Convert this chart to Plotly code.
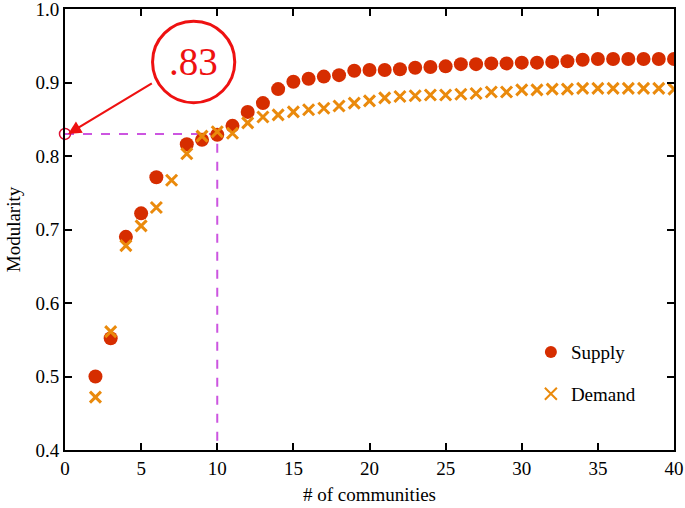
import plotly.graph_objects as go

# number of communities
communities = list(range(2, 41))

# modularity (supply has no point at 7)
supply = [0.500, 0.552, 0.690, 0.722, 0.771, None, 0.816, 0.822, 0.829, 0.841,
          0.860, 0.872, 0.891, 0.901, 0.905, 0.908, 0.910, 0.916, 0.917, 0.917,
          0.918, 0.920, 0.921, 0.922, 0.925, 0.925, 0.926, 0.926, 0.927, 0.927,
          0.928, 0.929, 0.931, 0.932, 0.932, 0.932, 0.932, 0.932, 0.932]
demand = [0.472, 0.561, 0.678, 0.705, 0.730, 0.767, 0.803, 0.827, 0.833, 0.831,
          0.845, 0.853, 0.856, 0.860, 0.863, 0.865, 0.868, 0.872, 0.875, 0.879,
          0.881, 0.882, 0.883, 0.883, 0.884, 0.885, 0.887, 0.887, 0.890, 0.890,
          0.891, 0.891, 0.892, 0.892, 0.892, 0.892, 0.892, 0.892, 0.891]

best_k = 10
best_q = 0.83

FONT = "Liberation Serif"
RED = "#d62d00"
ORANGE = "#ea8a0c"
VIOLET = "#cc55e0"

fig = go.Figure()

# guide lines to the chosen point
fig.add_trace(go.Scatter(x=[0, best_k, best_k], y=[best_q, best_q, 0.4], mode="lines",
                         line=dict(color=VIOLET, width=2, dash="dash"),
                         showlegend=False, hoverinfo="skip"))

fig.add_trace(go.Scatter(x=communities, y=supply, mode="markers", name="Supply",
                         legendgroup="s",
                         marker=dict(symbol="circle", size=14, color=RED)))
fig.add_trace(go.Scatter(x=communities, y=demand, mode="markers", name="Demand",
                         legendgroup="d",
                         marker=dict(symbol="x-thin", size=11, color=ORANGE,
                                     line=dict(color=ORANGE, width=3))))

# small open circle on the y axis
fig.add_trace(go.Scatter(x=[0], y=[best_q], mode="markers", showlegend=False,
                         marker=dict(symbol="circle-open", size=11, color="#dd1133",
                                     line=dict(width=1.5)),
                         cliponaxis=False, hoverinfo="skip"))

# big circled label
fig.add_shape(type="circle", xref="x", yref="y", x0=5.75, x1=11.15, y0=0.8725, y1=0.9835,
              line=dict(color="#ee1111", width=3))
fig.add_annotation(x=8.45, y=0.928, text=".83", showarrow=False,
                   font=dict(family=FONT, size=39, color="#ee1111"))
fig.add_annotation(x=0.2, y=best_q, ax=5.8, ay=0.9, axref="x", ayref="y",
                   text="", showarrow=True, arrowhead=2, arrowsize=1.2, arrowwidth=2.2,
                   arrowcolor="#ee1111")

axis_style = dict(showline=True, linecolor="black", linewidth=2, mirror="allticks",
                  ticks="inside", ticklen=7, tickwidth=2, tickcolor="black",
                  showgrid=False, zeroline=False, automargin=False,
                  ticklabeloverflow="allow",
                  tickfont=dict(family=FONT, size=19, color="black"))

fig.update_xaxes(range=[0, 40], dtick=5, title=dict(text="# of communities", standoff=10,
                 font=dict(family=FONT, size=19, color="black")), **axis_style)
fig.update_yaxes(range=[0.4, 1.0], dtick=0.1, tickformat=".1f",
                 title=dict(text="Modularity", standoff=10,
                            font=dict(family=FONT, size=19, color="black")), **axis_style)

fig.update_layout(
    width=685, height=508,
    margin=dict(l=65, r=11, t=9, b=58),
    paper_bgcolor="white", plot_bgcolor="white",
    legend=dict(x=0.765, y=0.265, xanchor="left", yanchor="top", bgcolor="rgba(0,0,0,0)",
                font=dict(family=FONT, size=19, color="black"), tracegroupgap=14,
                itemsizing="constant"),
)

# drop the page's default body margin so the figure fills the window
fig.write_html("out.html", config={"displayModeBar": False},
               post_script="document.body.style.margin='0';")
